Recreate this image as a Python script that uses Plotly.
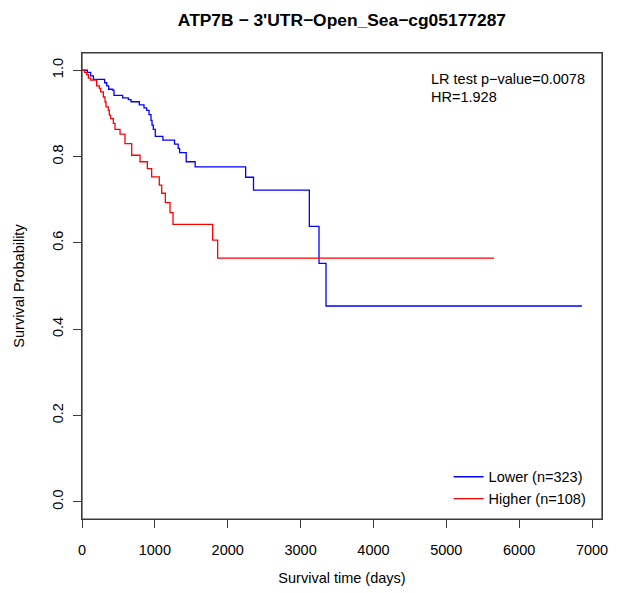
import plotly.graph_objects as go

# ---- data ----
lower_time = [0, 73, 119, 156, 311, 339, 366, 421, 439, 558, 636, 673, 787, 851, 888, 920,
              947, 961, 979, 1006, 1110, 1270, 1320, 1340, 1430, 1553, 2246, 2354, 3120,
              3253, 3349, 6862]
lower_surv = [1.0, 0.995, 0.987, 0.979, 0.971, 0.964, 0.956, 0.954, 0.942, 0.936, 0.932, 0.927,
              0.920, 0.913, 0.907, 0.897, 0.884, 0.873, 0.863, 0.847, 0.838, 0.829, 0.819,
              0.809, 0.788, 0.776, 0.752, 0.722, 0.638, 0.5525, 0.4537, 0.4537]

higher_time = [0, 37, 64, 87, 119, 201, 238, 256, 293, 316, 329, 361, 375, 393, 430, 453, 522,
               590, 682, 796, 897, 956, 1061, 1094, 1144, 1208, 1249, 1793, 1862, 5655]
higher_surv = [1.0, 0.995, 0.990, 0.982, 0.977, 0.964, 0.958, 0.950, 0.938, 0.927, 0.915, 0.907,
               0.896, 0.888, 0.877, 0.863, 0.852, 0.830, 0.803, 0.788, 0.772, 0.753, 0.734,
               0.715, 0.693, 0.670, 0.643, 0.6065, 0.5648, 0.5648]

series_names = ["Lower (n=323)", "Higher (n=108)"]
series_colors = ["#0000FF", "#FF0000"]

x_range = [0, 7137]
y_range = [-0.04, 1.04]
x_ticks = [0, 1000, 2000, 3000, 4000, 5000, 6000, 7000]
y_ticks = [0.0, 0.2, 0.4, 0.6, 0.8, 1.0]
y_tick_labels = ["0.0", "0.2", "0.4", "0.6", "0.8", "1.0"]

title_text = "ATP7B \u2212 3'UTR\u2212Open_Sea\u2212cg05177287"
stat_lines = ["LR test p\u2212value=0.0078", "HR=1.928"]
x_title = "Survival time (days)"
y_title = "Survival Probability"

FONT = "Liberation Sans, Arial, Helvetica, sans-serif"
FS = 14.5
FRAME = "#3a3a3a"

fig = go.Figure()
for t, s, name, col in [(lower_time, lower_surv, series_names[0], series_colors[0]),
                        (higher_time, higher_surv, series_names[1], series_colors[1])]:
    fig.add_trace(go.Scatter(x=t, y=s, mode="lines", name=name, cliponaxis=False,
                             line=dict(color=col, width=1.3, shape="hv")))

axis_common = dict(showgrid=False, zeroline=False, showline=True, mirror=True,
                   linecolor=FRAME, linewidth=1.2, ticks="outside", ticklen=8,
                   tickcolor=FRAME, tickwidth=1,
                   tickfont=dict(family=FONT, size=FS, color="black"))

fig.update_xaxes(range=x_range, tickmode="array", tickvals=x_ticks,
                 ticklabelstandoff=9,
                 title=dict(text=x_title, font=dict(family=FONT, size=FS, color="black"),
                            standoff=16),
                 **axis_common)
fig.update_yaxes(range=y_range, tickmode="array", tickvals=y_ticks,
                 ticktext=y_tick_labels, tickangle=-90, ticklabelstandoff=4,
                 title=dict(text=y_title, font=dict(family=FONT, size=FS, color="black"),
                            standoff=22),
                 **axis_common)

# plot frame (R box), drawn in data units of the axes' full range
fig.add_shape(type="rect", xref="x", yref="y", x0=x_range[0], y0=y_range[0],
              x1=x_range[1], y1=y_range[1],
              line=dict(color=FRAME, width=1.2), layer="above")

fig.add_annotation(text=stat_lines[0], xref="paper", yref="paper", x=0.668, y=0.945,
                   xanchor="left", yanchor="middle", showarrow=False,
                   font=dict(family=FONT, size=FS, color="black"))
fig.add_annotation(text=stat_lines[1], xref="paper", yref="paper", x=0.668, y=0.9056,
                   xanchor="left", yanchor="middle", showarrow=False,
                   font=dict(family=FONT, size=FS, color="black"))

fig.update_layout(
    width=617, height=593,
    margin=dict(l=82, r=15, t=53, b=74, autoexpand=False),
    paper_bgcolor="white", plot_bgcolor="white",
    title=dict(text="<b>" + title_text + "</b>", x=0.5542, xanchor="center",
               y=1 - 19.8 / 593, yanchor="middle",
               font=dict(family=FONT, size=17.4, color="black")),
    legend=dict(x=0.98, y=0.009, xanchor="right", yanchor="bottom",
                bgcolor="rgba(0,0,0,0)", borderwidth=0, tracegroupgap=0,
                font=dict(family=FONT, size=FS, color="black")),
    showlegend=True,
)

fig.write_html("out.html", config={"displayModeBar": False},
               post_script="document.body.style.margin='0';document.body.style.overflow='hidden';")
